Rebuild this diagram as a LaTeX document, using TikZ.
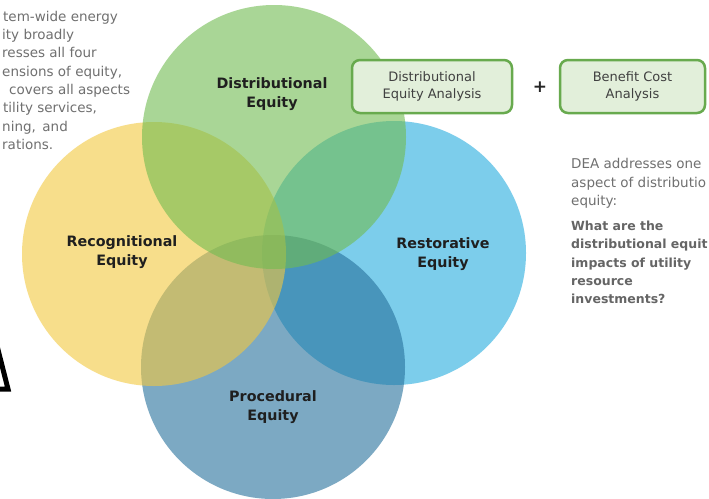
\documentclass[tikz,border=0pt]{standalone}
\usepackage{fontspec}
\setmainfont{DejaVu Sans}
\begin{document}
\begin{tikzpicture}[x=1pt,y=-1pt,
  venn/.style={circle, minimum size=264pt, inner sep=0pt, fill opacity=0.6, draw=none},
  lbl/.style={font=\bfseries\fontsize{14.3}{18.5}\selectfont, text=black!88, align=center},
  abox/.style={draw=boxgreen, line width=2.5pt, rounded corners=8pt, fill=boxfill,
    font=\fontsize{13}{17}\selectfont, align=center, text=black!75, inner sep=0pt},
  note/.style={anchor=base west, font=\fontsize{13.5}{16}\selectfont, text=notegray, inner sep=0pt},
  notebold/.style={note, font=\bfseries\fontsize{12.5}{16}\selectfont, text=notegray!90!black}
]
\definecolor{cgreen}{RGB}{113,188,80}
\definecolor{cyellow}{RGB}{243,200,63}
\definecolor{cblue}{RGB}{38,172,222}
\definecolor{cproc}{RGB}{38,113,155}
\definecolor{boxgreen}{RGB}{104,170,78}
\definecolor{boxfill}{RGB}{226,239,218}
\definecolor{notegray}{RGB}{112,112,112}

\useasboundingbox[fill=white] (0,0) rectangle (709,498);

% circles (bottom to top)
\node[venn, fill=cblue]   (rest) at (394,253) {};
\node[venn, fill=cproc]   (proc) at (273,367) {};
\node[venn, fill=cyellow] (reco) at (154,254) {};
\node[venn, fill=cgreen]  (dist) at (274,137) {};

% circle labels
\node[lbl] (distlbl) at (272,94)  {Distributional\\Equity};
\node[lbl] (recolbl) at (122,252) {Recognitional\\Equity};
\node[lbl] (restlbl) at (443,254) {Restorative\\Equity};
\node[lbl] (proclbl) at (273,407) {Procedural\\Equity};

% analysis boxes
\node[abox, minimum width=160pt, minimum height=53pt] (dea) at (432,86.5) {Distributional\\Equity Analysis};
\node[abox, minimum width=145pt, minimum height=53pt] (bca) at (632.5,86.5) {Benefit Cost\\Analysis};
\node[font=\bfseries\fontsize{17}{17}\selectfont, text=black!85] (plus) at (540,87) {+};

% left text (as visible at the left edge)
\node[note] (l1) at (3,21)    {tem-wide energy};
\node[note] (l2) at (2,39)    {ity broadly};
\node[note] (l3) at (2,57)    {resses all four};
\node[note] (l4) at (2,76)    {ensions of equity,};
\node[note] (l5) at (9,94)    {covers all aspects};
\node[note] (l6) at (3,112)   {tility services,};
\node[note] (l7) at (2,131)   {ning,\, and};
\node[note] (l8) at (2,149)   {rations.};

% right text (as visible at the right edge)
\node[note] (r1) at (571,168) {DEA addresses one};
\node[note] (r2) at (571,187) {aspect of distributio};
\node[note] (r3) at (571,205) {equity:};
\node[notebold] (r4) at (571,230) {What are the};
\node[notebold] (r5) at (571,248) {distributional equit};
\node[notebold] (r6) at (571,267) {impacts of utility};
\node[notebold] (r7) at (571,285) {resource};
\node[notebold] (r8) at (571,303) {investments?};

% fragment of a large letter at the left edge
\draw[line width=5pt, miter limit=10] (-6,334) -- (8,389) -- (-6,389);
\end{tikzpicture}
\end{document}
